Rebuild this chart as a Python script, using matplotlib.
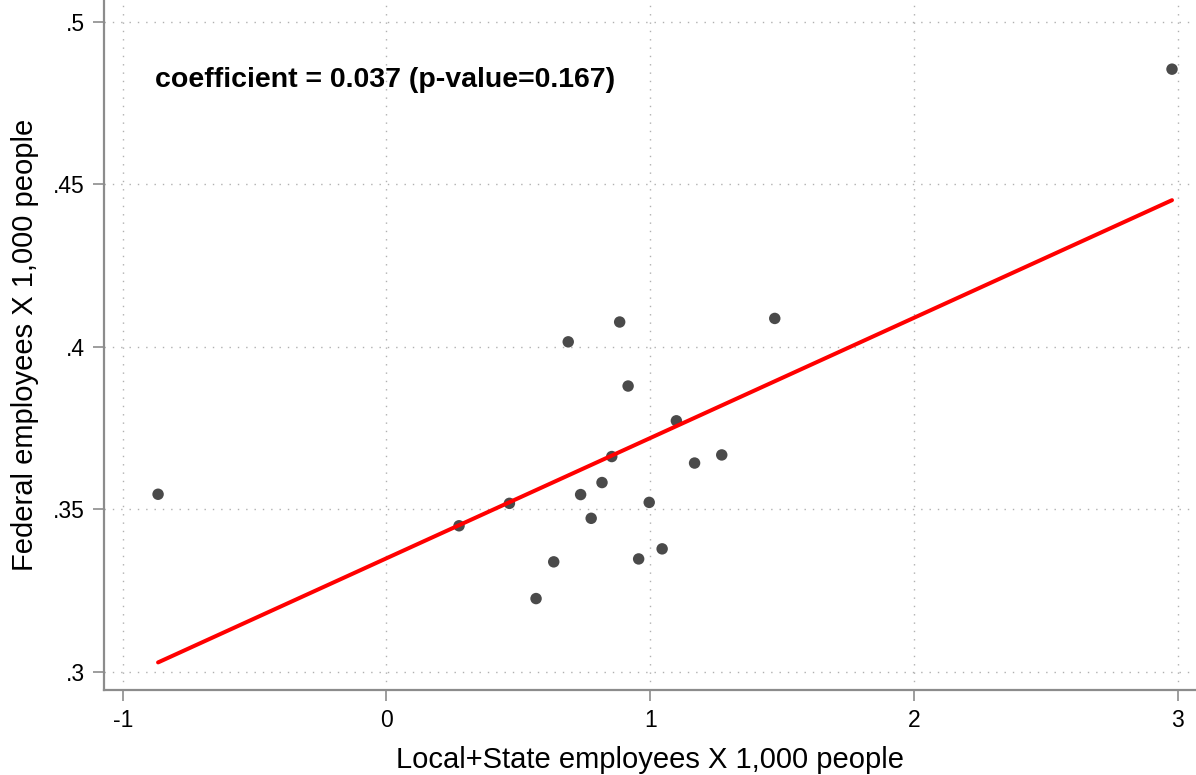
import matplotlib
matplotlib.use('Agg')
import matplotlib.pyplot as plt
import numpy as np

plt.rcParams['font.family'] = ['Liberation Sans', 'DejaVu Sans']

# employees per 1,000 people, one point per unit
local_state = [-0.866, 0.275, 0.466, 0.567, 0.634, 0.689, 0.736, 0.776, 0.817, 0.854,
               0.884, 0.916, 0.956, 0.996, 1.045, 1.099, 1.168, 1.271, 1.472, 2.978]
federal = [0.3546, 0.3449, 0.3518, 0.3225, 0.3338, 0.4015, 0.3545, 0.3472, 0.3582, 0.3662,
           0.4076, 0.3879, 0.3347, 0.3521, 0.3378, 0.3772, 0.3642, 0.3667, 0.4087, 0.4854]

# fitted line
coef = 0.037
pval = 0.167
intercept = 0.3349

x_ticks = [-1, 0, 1, 2, 3]
x_tick_labels = ['-1', '0', '1', '2', '3']
y_ticks = [0.3, 0.35, 0.4, 0.45, 0.5]
y_tick_labels = ['.3', '.35', '.4', '.45', '.5']

fig = plt.figure(figsize=(11.96, 7.75), dpi=100)
ax = fig.add_axes([104 / 1196, 85 / 775, 1092 / 1196, 690 / 775])

x = np.array(local_state)
y = np.array(federal)
ax.scatter(x, y, s=68, color='#4a4a4a', edgecolors='none', zorder=3)

xs = np.array([x.min(), x.max()])
ax.plot(xs, intercept + coef * xs, color='red', lw=2.9, solid_capstyle='round', zorder=4)

ax.text(-0.878, 0.482, 'coefficient = %.3f (p-value=%.3f)' % (coef, pval),
        fontsize=20.5, fontweight='bold', va='center', ha='left')

ax.set_xlim(-1.071, 3.069)
ax.set_ylim(0.29437, 0.50668)
ax.set_xticks(x_ticks)
ax.set_xticklabels(x_tick_labels)
ax.set_yticks(y_ticks)
ax.set_yticklabels(y_tick_labels)

ax.grid(True, linestyle=(0, (1, 5)), color='#b0b0b0', lw=1.0)
ax.set_axisbelow(True)

for side in ['top', 'right']:
    ax.spines[side].set_visible(False)
for side in ['left', 'bottom']:
    ax.spines[side].set_color('#8c8c8c')
    ax.spines[side].set_linewidth(1.6)

ax.tick_params(axis='both', length=8, width=1.2, color='#8c8c8c', labelsize=16.5, pad=6)

ax.set_xlabel('Local+State employees X 1,000 people', fontsize=21, labelpad=10)
ax.set_ylabel('Federal employees X 1,000 people', fontsize=21, labelpad=10)

plt.savefig('out.png', dpi=100)
